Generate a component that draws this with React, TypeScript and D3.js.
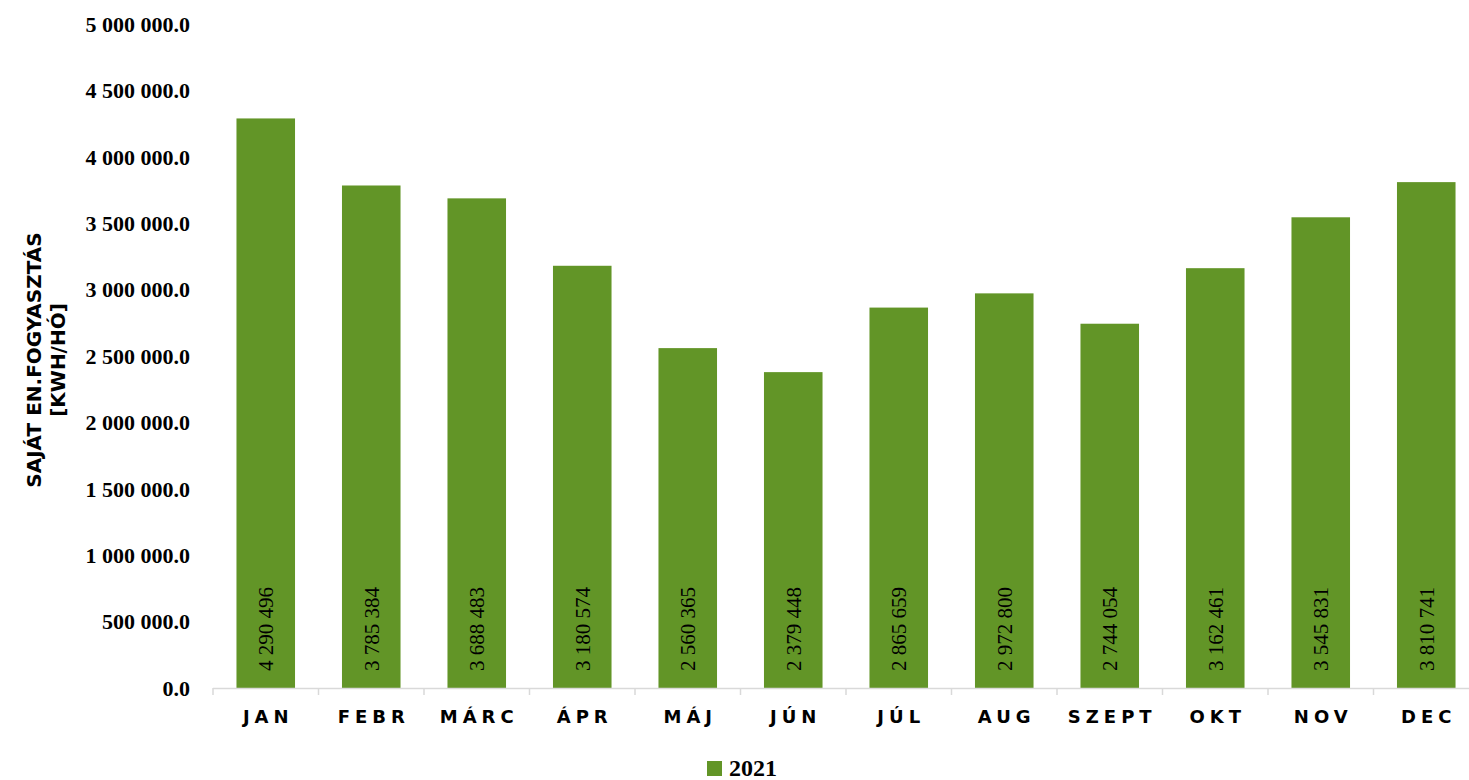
import React from "react";
import * as d3 from "d3";

const months = ["JAN", "FEBR", "MÁRC", "ÁPR", "MÁJ", "JÚN", "JÚL", "AUG", "SZEPT", "OKT", "NOV", "DEC"];
const values2021 = [4290496, 3785384, 3688483, 3180574, 2560365, 2379448, 2865659, 2972800, 2744054, 3162461, 3545831, 3810741];
const yTicks = [0, 500000, 1000000, 1500000, 2000000, 2500000, 3000000, 3500000, 4000000, 4500000, 5000000];
const seriesName = "2021";
const yTitleLines = ["SAJÁT EN.FOGYASZTÁS", "[KWH/HÓ]"];

const W = 1469;
const H = 780;
const left = 213;
const right = 1479;
const y0 = 688;
const yTop = 24.25;

const locale = d3.formatLocale({ decimal: ".", thousands: " ", grouping: [3], currency: ["", ""] });
const fmtTick = locale.format(",.1f");
const fmtVal = locale.format(",.0f");

const GREEN = "#629527";
const serif = "'Liberation Serif', 'DejaVu Serif', serif";
const sans = "'DejaVu Sans', 'Open Sans', sans-serif";

export default function App() {
  const x = d3.scaleBand<string>().domain(months).range([left, right]).paddingInner(0.445).paddingOuter(0.2225);
  const y = d3.scaleLinear().domain([0, 5000000]).range([y0, yTop]);
  const step = x.step();
  const boundaries = d3.range(months.length + 1).map((i) => left + i * step);

  return (
    <svg width={W} height={H} style={{ position: "absolute", left: 0, top: 0, background: "#fff" }}>
      {yTicks.map((t) => (
        <text key={t} x={190} y={y(t)} dy="0.35em" textAnchor="end" fontFamily={serif} fontWeight="bold" fontSize={22} fill="#000">
          {fmtTick(t)}
        </text>
      ))}
      {months.map((m, i) => {
        const bx = x(m)!;
        const v = values2021[i];
        const cx = bx + x.bandwidth() / 2;
        return (
          <g key={m}>
            <rect x={bx} y={y(v)} width={x.bandwidth()} height={y0 - y(v)} fill={GREEN} />
            <text
              transform={`translate(${cx},${y0 - 17}) rotate(-90)`}
              dy="0.35em"
              textAnchor="start"
              fontFamily={serif}
              fontSize={21}
              fill="#000"
            >
              {fmtVal(v)}
            </text>
            <text x={cx + 2.5} y={717} dy="0.36em" textAnchor="middle" fontFamily={sans} fontWeight="bold" fontSize={18} letterSpacing={5} fill="#000">
              {m}
            </text>
          </g>
        );
      })}
      <line x1={left} x2={W} y1={y0 + 0.5} y2={y0 + 0.5} stroke="#d9d9d9" strokeWidth={1.5} />
      {boundaries.map((bx, i) => (
        <line key={i} x1={bx} x2={bx} y1={y0} y2={y0 + 7} stroke="#d9d9d9" strokeWidth={1.5} />
      ))}
      <g transform="translate(34,360) rotate(-90)">
        <text x={0} y={0} dy="0.35em" textAnchor="middle" fontFamily={sans} fontWeight="bold" fontSize={20} fill="#000">
          {yTitleLines[0]}
        </text>
        <text x={0} y={24} dy="0.35em" textAnchor="middle" fontFamily={sans} fontWeight="bold" fontSize={20} fill="#000">
          {yTitleLines[1]}
        </text>
      </g>
      <rect x={707} y={761} width={15} height={15} fill={GREEN} />
      <text x={729} y={776} fontFamily={serif} fontWeight="bold" fontSize={24} fill="#000">
        {seriesName}
      </text>
    </svg>
  );
}
